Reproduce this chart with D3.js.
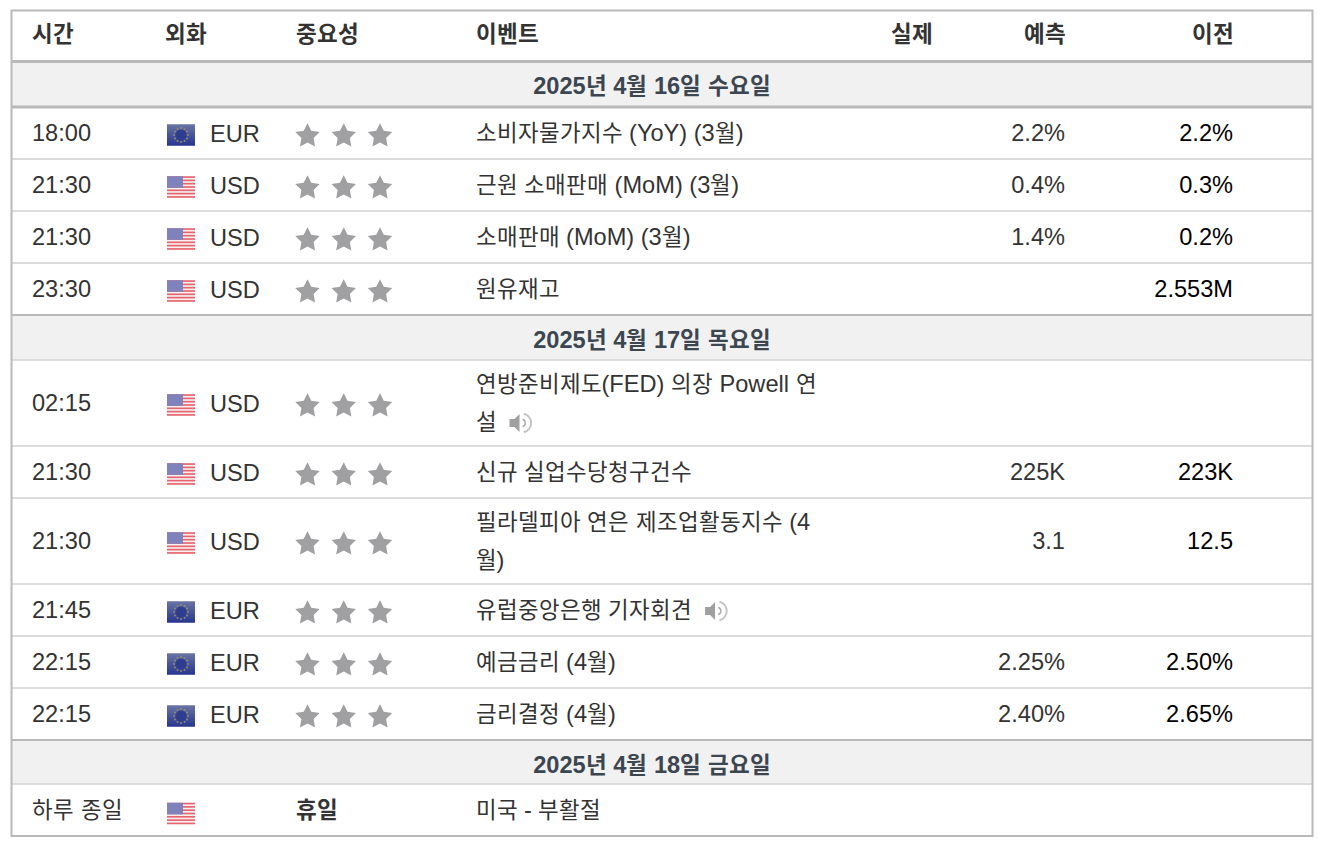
<!DOCTYPE html>
<html>
<head>
<meta charset="utf-8">
<title>경제 캘린더</title>
<script src="https://d3js.org/d3.v7.min.js"></script>
<style>
	@font-face { font-family: "KrNarrow"; src: local("Noto Sans CJK KR"); font-weight: normal; size-adjust: 95%; }
	@font-face { font-family: "KrNarrow"; src: local("Noto Sans CJK KR Bold"); font-weight: bold; size-adjust: 95.5%; }
	html, body { margin: 0; padding: 0; background: #fff; }
	svg { display: block; }
	text { font-family: "Liberation Sans", "KrNarrow", "Noto Sans CJK KR", sans-serif; font-size: 23.6px; fill: #333; }
	.head { font-weight: bold; }
	.day { font-weight: bold; fill: #3c4650; text-anchor: middle; }
	.prev { fill: #000; }
</style>
</head>
<body>
<svg id="chart" width="1318" height="844"></svg>
<script>
// table content
var headers = ["시간", "외화", "중요성", "이벤트", "실제", "예측", "이전"];
var dayLabels = ["2025년 4월 16일 수요일", "2025년 4월 17일 목요일", "2025년 4월 18일 금요일"];

var rowDay = [0, 0, 0, 0, 1, 1, 1, 1, 1, 1, 2];
var times = ["18:00", "21:30", "21:30", "23:30", "02:15", "21:30", "21:30", "21:45", "22:15", "22:15", "하루 종일"];
var currencies = ["EUR", "USD", "USD", "USD", "USD", "USD", "USD", "EUR", "EUR", "EUR", "USD"];
var importance = [3, 3, 3, 3, 3, 3, 3, 3, 3, 3, 0];
var events = [
	["소비자물가지수 (YoY) (3월)"],
	["근원 소매판매 (MoM) (3월)"],
	["소매판매 (MoM) (3월)"],
	["원유재고"],
	["연방준비제도(FED) 의장 Powell 연", "설"],
	["신규 실업수당청구건수"],
	["필라델피아 연은 제조업활동지수 (4", "월)"],
	["유럽중앙은행 기자회견"],
	["예금금리 (4월)"],
	["금리결정 (4월)"],
	["미국 - 부활절"]
];
var hasAudio = [false, false, false, false, true, false, false, true, false, false, false];
var forecast = ["2.2%", "0.4%", "1.4%", "", "", "225K", "3.1", "", "2.25%", "2.40%", ""];
var previous = ["2.2%", "0.3%", "0.2%", "2.553M", "", "223K", "12.5", "", "2.50%", "2.65%", ""];

var svg = d3.select("#chart");
var defs = svg.append("defs");

defs.append("filter").attr("id", "soft")
	.append("feGaussianBlur").attr("stdDeviation", 0.7);

var eurGrad = defs.append("linearGradient").attr("id", "eurGrad").attr("x2", 0).attr("y2", 1);
eurGrad.append("stop").attr("offset", 0).attr("stop-color", "#6a75a3");
eurGrad.append("stop").attr("offset", 1).attr("stop-color", "#27358f");

// column positions
var columnX = d3.scaleOrdinal()
	.domain(headers)
	.range([32, 165, 296, 475.5, 932, 1065, 1233]);
var flagX = 167, currencyX = 210;
var starX = d3.scalePoint().domain([0, 1, 2]).range([307.5, 380]);
var singleH = 52, lineH = 38;
var dayHeights = [45.5, 45, 44];

var frameLeft = 11.5, frameRight = 1312.5, frameTop = 10.5, headerBottom = 61.5;

// header row
svg.selectAll("text.head")
	.data(headers)
	.enter()
	.append("text")
	.attr("class", "head")
	.attr("x", function (d, i) { return columnX(d) + (i >= 4 ? 0.5 : 0); })
	.attr("y", 41.5)
	.attr("text-anchor", function (d, i) { return i >= 4 ? "end" : "start"; })
	.text(function (d) { return d; });

function hline(y, color, width) {
	svg.append("line")
		.attr("x1", frameLeft).attr("x2", frameRight)
		.attr("y1", y).attr("y2", y)
		.attr("stroke", color).attr("stroke-width", width);
}

function drawFlag(g, cur, y) {
	var w = 28, h = 21.5;
	var f = g.append("g")
		.attr("transform", "translate(" + flagX + "," + (y - h / 2) + ")")
		.attr("filter", "url(#soft)");
	if (cur == "EUR") {
		f.append("rect").attr("width", w).attr("height", h).attr("fill", "url(#eurGrad)");
		f.append("circle").attr("cx", w / 2).attr("cy", h / 2).attr("r", 5.5).attr("fill", "#2e3c8e");
		f.selectAll("circle.eustar")
			.data(d3.range(12))
			.enter()
			.append("circle")
			.attr("class", "eustar")
			.attr("cx", function (d) { return w / 2 + 7 * Math.cos(d * Math.PI / 6); })
			.attr("cy", function (d) { return h / 2 + 7 * Math.sin(d * Math.PI / 6); })
			.attr("r", 1)
			.attr("fill", "#8f8c6e");
	} else {
		f.append("rect").attr("width", w).attr("height", h).attr("fill", "#f6f0f0");
		f.selectAll("rect.stripe")
			.data(d3.range(0, 13, 2))
			.enter()
			.append("rect")
			.attr("class", "stripe")
			.attr("y", function (d) { return d * h / 13; })
			.attr("width", w)
			.attr("height", h / 13)
			.attr("fill", "#e8636f");
		f.append("rect").attr("width", 16).attr("height", h * 7 / 13).attr("fill", "#7f82bb");
	}
}

// fatter star than d3.symbolStar, same as the site's icon
var fatStar = {
	draw: function (context, size) {
		var r = Math.sqrt(size);
		for (var i = 0; i < 10; i++) {
			var a = i * Math.PI / 5 - Math.PI / 2;
			var rr = i % 2 ? r * 0.5 : r;
			if (i == 0) context.moveTo(rr * Math.cos(a), rr * Math.sin(a));
			else context.lineTo(rr * Math.cos(a), rr * Math.sin(a));
		}
		context.closePath();
	}
};
var starPath = d3.symbol().type(fatStar).size(165);

function drawSpeaker(g, x, y) {
	var s = g.append("g")
		.attr("transform", "translate(" + x + "," + y + ")")
		.attr("filter", "url(#soft)");
	s.append("path").attr("d", "M0,-4 L5,-4 L10,-9 L10,9 L5,4 L0,4 Z").attr("fill", "#a0a0a0");
	var arc = d3.arc();
	s.append("path")
		.attr("transform", "translate(12,0)")
		.attr("d", arc({ innerRadius: 3, outerRadius: 4.6, startAngle: 0.3, endAngle: Math.PI - 0.3 }))
		.attr("fill", "#b0b0b0");
	s.append("path")
		.attr("transform", "translate(12,0)")
		.attr("d", arc({ innerRadius: 8.6, outerRadius: 10.6, startAngle: 0.25, endAngle: Math.PI - 0.25 }))
		.attr("fill", "#c4c4c4");
}

var y = headerBottom;

dayLabels.forEach(function (label, di) {
	svg.append("rect")
		.attr("x", frameLeft).attr("y", y)
		.attr("width", frameRight - frameLeft).attr("height", dayHeights[di])
		.attr("fill", "#f1f1f1");
	svg.append("text")
		.attr("class", "day")
		.attr("x", 652).attr("y", y + 32.5)
		.text(label);
	hline(y, "#b9b9b9", di == 0 ? 3 : 2);
	y += dayHeights[di];
	hline(y, di == 0 ? "#b9b9b9" : "#dcdcdc", di == 0 ? 3 : 2);

	d3.range(times.length).filter(function (i) { return rowDay[i] == di; }).forEach(function (i) {
		var lines = events[i];
		var h = lines.length == 1 ? singleH : singleH + 34;
		var mid = y + h / 2;
		var g = svg.append("g");
		var baseY = mid + 8;

		g.append("text").attr("x", columnX("시간")).attr("y", baseY).text(times[i]);

		if (importance[i] > 0) {
			drawFlag(g, currencies[i], mid + 2);
			g.append("text").attr("x", currencyX).attr("y", baseY + 1).text(currencies[i]);
			g.selectAll("path.star")
				.data(d3.range(importance[i]))
				.enter()
				.append("path")
				.attr("class", "star")
				.attr("d", starPath)
				.attr("transform", function (d) { return "translate(" + starX(d) + "," + (mid + 3) + ")"; })
				.attr("fill", "#a0a0a2")
				.attr("filter", "url(#soft)");
		} else {
			drawFlag(g, currencies[i], mid + 3.5);
			g.append("text").attr("x", columnX("중요성")).attr("y", baseY)
				.attr("font-weight", "bold").text("휴일");
		}

		var lineY = function (k) { return baseY - (lines.length - 1) * lineH / 2 + k * lineH; };
		var evt = g.selectAll("text.evt")
			.data(lines)
			.enter()
			.append("text")
			.attr("class", "evt")
			.attr("x", columnX("이벤트"))
			.attr("y", function (d, k) { return lineY(k); })
			.text(function (d) { return d; });

		if (hasAudio[i]) {
			var box = evt.nodes()[lines.length - 1].getBBox();
			drawSpeaker(g, box.x + box.width + 13, lineY(lines.length - 1) - 7);
		}

		g.append("text").attr("x", columnX("예측")).attr("y", baseY)
			.attr("text-anchor", "end").text(forecast[i]);
		g.append("text").attr("class", "prev").attr("x", columnX("이전")).attr("y", baseY)
			.attr("text-anchor", "end").text(previous[i]);

		y += h;
		if (i < times.length - 1 && rowDay[i + 1] == di) {
			hline(y, "#dcdcdc", 2);
		}
	});
});

// outer frame
svg.append("rect")
	.attr("x", frameLeft).attr("y", frameTop)
	.attr("width", frameRight - frameLeft).attr("height", y - frameTop)
	.attr("fill", "none")
	.attr("stroke", "#b9b9b9")
	.attr("stroke-width", 2);
</script>
</body>
</html>
